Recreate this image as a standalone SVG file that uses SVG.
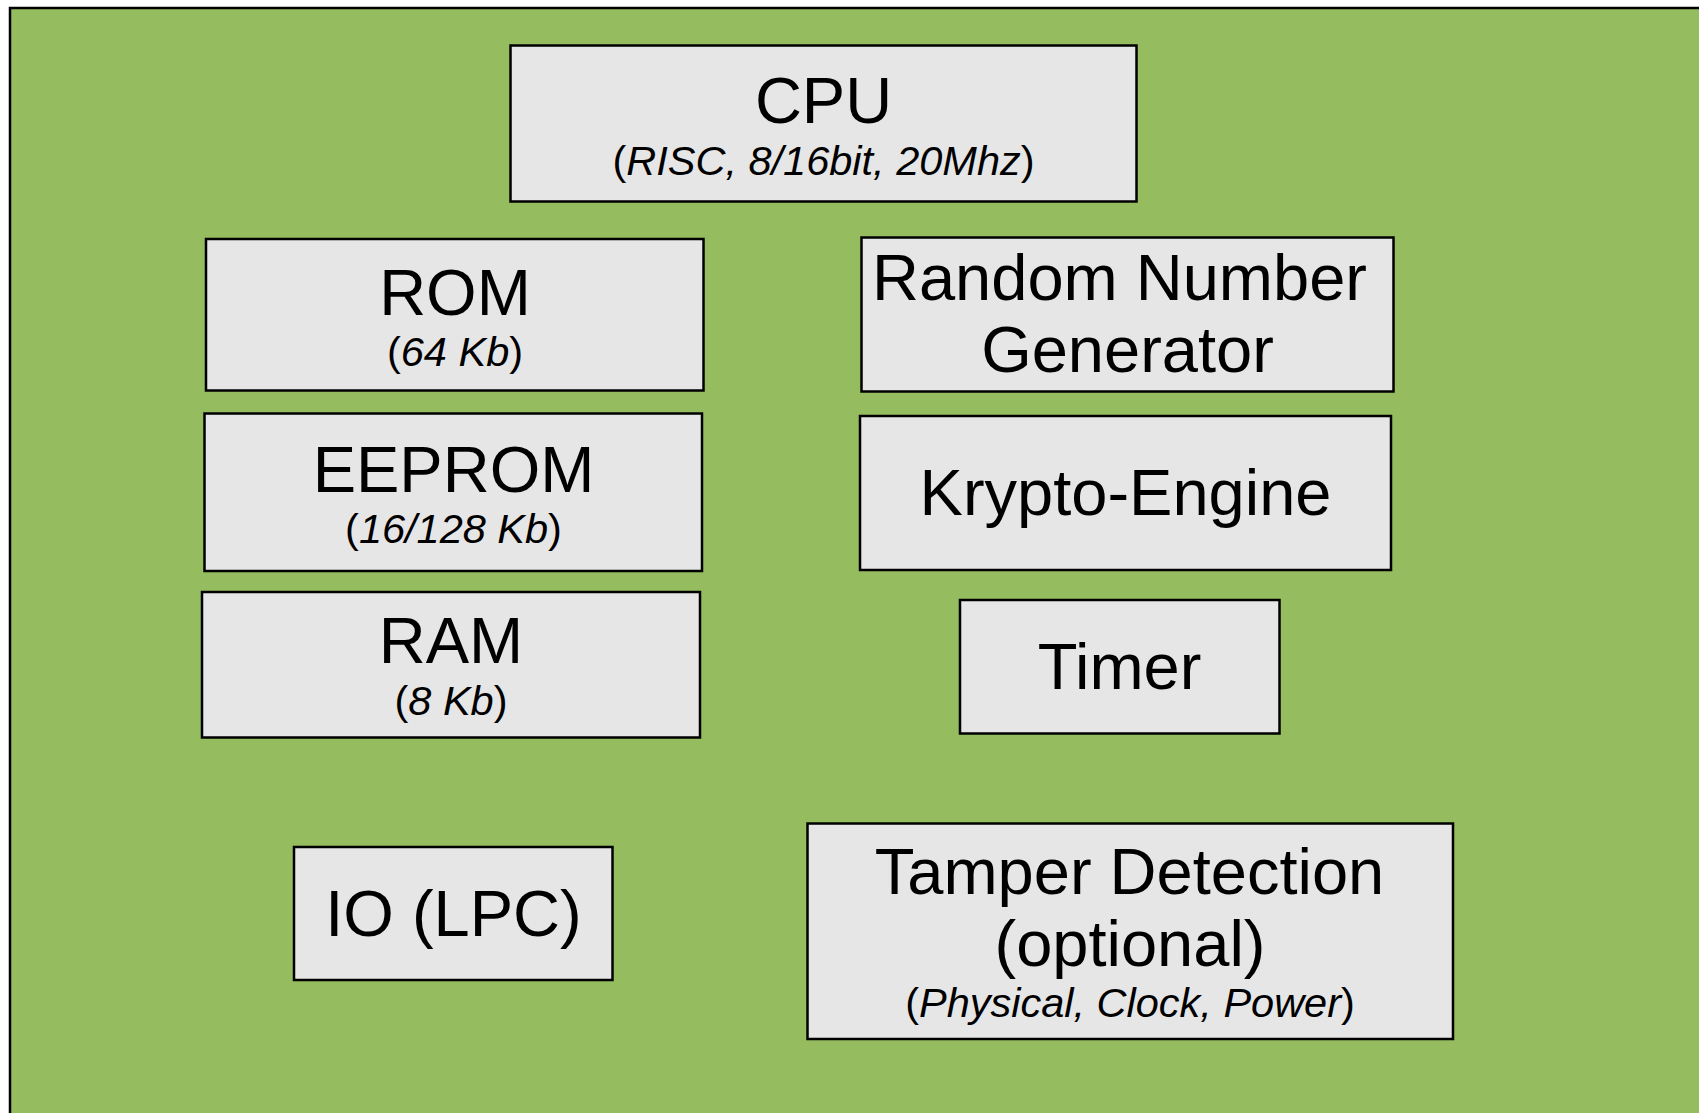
<svg xmlns="http://www.w3.org/2000/svg" width="1699" height="1113" viewBox="0 0 1699 1113">
<style>
.box{fill:#E6E6E6;stroke:#000;stroke-width:2.5}
.t{font-family:"Liberation Sans",Arial,sans-serif;fill:#000;text-anchor:middle}
.big{font-size:65px}
.sub{font-size:41.5px}
.it{font-style:italic}
</style>
<rect x="0" y="0" width="1699" height="1113" fill="#FFFFFF"/>
<rect id="chip" x="10" y="8" width="1710" height="1130" fill="#95BD5F" stroke="#000" stroke-width="2.5"/>
<g id="connectors"></g>
<g id="cpu">
<rect class="box" x="510.5" y="45.5" width="626" height="156"/>
<text class="t big" x="823.5" y="123">CPU</text>
<text class="t sub" x="823.5" y="175">(<tspan class="it">RISC, 8/16bit, 20Mhz</tspan>)</text>
</g>
<g id="rom">
<rect class="box" x="206" y="239" width="497.5" height="151.5"/>
<text class="t big" x="455" y="315">ROM</text>
<text class="t sub" x="455" y="366">(<tspan class="it">64 Kb</tspan>)</text>
</g>
<g id="eeprom">
<rect class="box" x="204.5" y="413.5" width="497.5" height="157.5"/>
<text class="t big" x="453.5" y="491.5">EEPROM</text>
<text class="t sub" x="453.5" y="543">(<tspan class="it">16/128 Kb</tspan>)</text>
</g>
<g id="ram">
<rect class="box" x="202" y="592" width="498" height="145.5"/>
<text class="t big" x="451" y="663">RAM</text>
<text class="t sub" x="451" y="715">(<tspan class="it">8 Kb</tspan>)</text>
</g>
<g id="rng">
<rect class="box" x="861.5" y="237.5" width="532" height="154"/>
<text class="t big" x="1119.5" y="300">Random Number</text>
<text class="t big" x="1127.5" y="371.5">Generator</text>
</g>
<g id="krypto">
<rect class="box" x="860" y="416" width="531" height="154"/>
<text class="t big" x="1125.5" y="515">Krypto-Engine</text>
</g>
<g id="timer">
<rect class="box" x="960" y="600" width="319.5" height="133.5"/>
<text class="t big" x="1119.5" y="689">Timer</text>
</g>
<g id="io">
<rect class="box" x="294" y="847" width="318.5" height="133"/>
<text class="t big" x="453.5" y="936">IO (LPC)</text>
</g>
<g id="tamper">
<rect class="box" x="807.5" y="823.5" width="645.5" height="215.5"/>
<text class="t big" x="1129.5" y="894">Tamper Detection</text>
<text class="t big" x="1130" y="966">(optional)</text>
<text class="t sub" x="1130" y="1016.5">(<tspan class="it">Physical, Clock, Power</tspan>)</text>
</g>
</svg>
